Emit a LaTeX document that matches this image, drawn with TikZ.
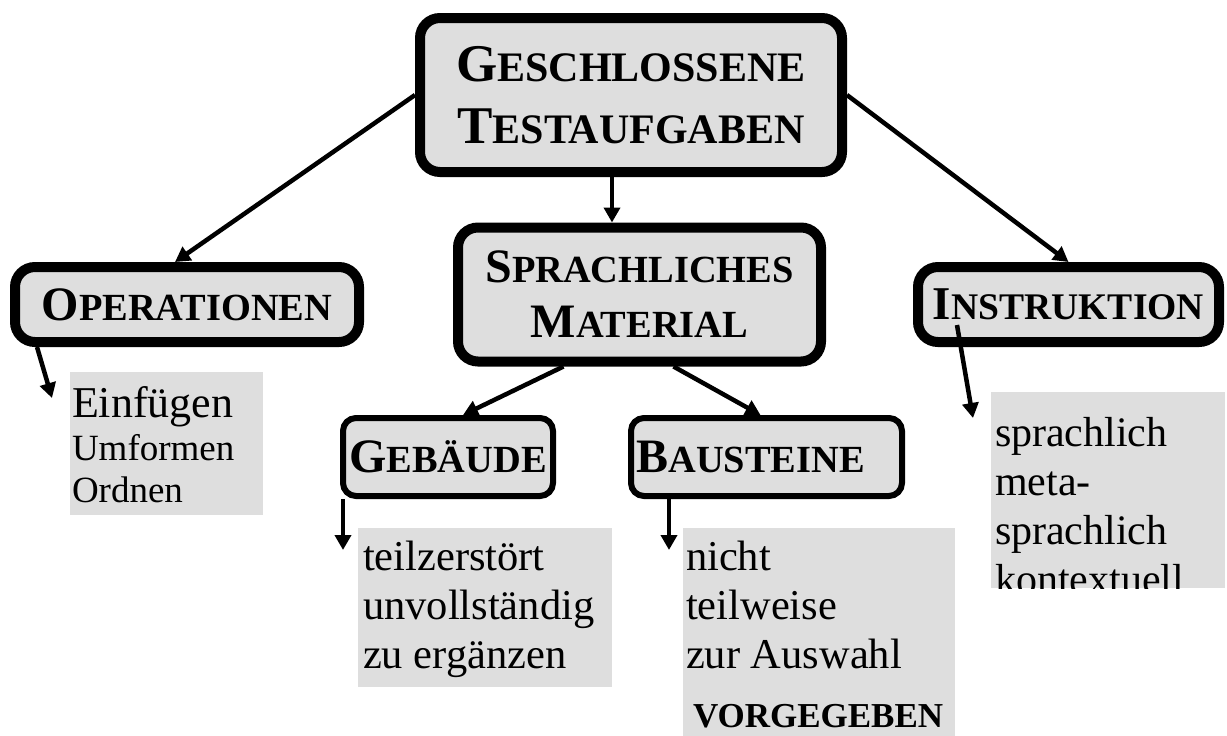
\documentclass[tikz,border=0pt]{standalone}
\usepackage{fontspec}
\setmainfont{Liberation Serif}
\usetikzlibrary{arrows.meta}
\definecolor{boxgray}{RGB}{222,222,222}
\newcommand{\capsc}[4]{{\fontsize{#1}{#1}\selectfont #3}{\fontsize{#2}{#2}\selectfont #4}}
\begin{document}
\begin{tikzpicture}[x=1pt,y=-1pt,
  hdr/.style={draw=black, fill=boxgray, rounded corners=20pt, line width=10pt, align=center, inner sep=0pt, font=\bfseries},
  sub/.style={hdr, line width=6pt, rounded corners=13pt},
  lst/.style={fill=boxgray, inner sep=0pt, outer sep=0pt},
  lsttxt/.style={anchor=north west, inner sep=0pt, outer sep=0pt, align=left, font=\fontsize{42.5}{49}\selectfont},
  arr/.style={line width=4.5pt, -{Triangle[length=15pt,width=16pt]}}]
\useasboundingbox (0,0) rectangle (1227,736);

% header boxes
\node[hdr, minimum width=422pt, minimum height=154pt, font=\bfseries\fontsize{53}{62}\selectfont] (top) at (631,95)
  {\capsc{53}{42}{G}{ESCHLOSSENE}\\\capsc{53}{42}{T}{ESTAUFGABEN}};
\node[hdr, minimum width=363pt, minimum height=134pt, font=\bfseries\fontsize{48}{55}\selectfont] (sm) at (639.5,294.5)
  {\capsc{48}{38.4}{S}{PRACHLICHES}\\\capsc{48}{38.4}{M}{ATERIAL}};
\node[hdr, minimum width=344pt, minimum height=75pt] (op) at (187,304.5) {\capsc{48}{38.4}{O}{PERATIONEN}};
\node[hdr, minimum width=301pt, minimum height=75pt] (ins) at (1068.5,304.5) {\capsc{47}{37.6}{I}{NSTRUKTION}};
\node[sub, minimum width=210pt, minimum height=78pt] (geb) at (448,457) {\capsc{48}{38.4}{G}{EBÄUDE}};
\node[sub, minimum width=271pt, minimum height=78pt] (bau) at (766.5,457) {\capsc{48}{38.4}{B}{AUSTEINE}\hspace*{32pt}};

% list boxes
\node[lst, minimum width=193pt, minimum height=143pt] (oplist) at (166.5,443.5) {};
\node[lst, minimum width=254pt, minimum height=159pt] (geblist) at (485,607.5) {};
\node[lst, minimum width=272pt, minimum height=208pt] (baulist) at (819,632) {};
\node[lst, minimum width=234pt, minimum height=196pt] (inslist) at (1108,490) {};

% list texts
\node[lsttxt, font=\fontsize{37}{42.5}\selectfont] (optxt) at (72,387)
  {{\fontsize{44}{42.5}\selectfont\rule{0pt}{30pt}Einfügen}\\Umformen\\Ordnen};
\node[lsttxt] (gebtxt) at (363,540)
  {\rule{0pt}{30pt}teilzerstört\\unvollständig\\zu ergänzen};
\node[lsttxt] (bautxt) at (686,540)
  {\rule{0pt}{30pt}nicht\\teilweise\\zur Auswahl\\[10pt]{\bfseries\fontsize{35}{42}\selectfont\hspace*{7pt}VORGEGEBEN}};
\begin{scope}
  \clip (inslist.north west) rectangle (inslist.south east);
  \node[lsttxt, font=\fontsize{42}{49}\selectfont] (instxt) at (995,416)
    {\rule{0pt}{30pt}sprachlich\\meta-\\sprachlich\\kontextuell};
\end{scope}

% connectors
\draw[arr] ([xshift=-19pt]top.south) -- ([xshift=-27.5pt]sm.north);
\draw[arr] (top.west) -- ([xshift=-12pt]op.north);
\draw[arr] (top.east) -- ([xshift=0pt]ins.north);
\draw[arr] ([xshift=-76pt]sm.south) -- ([xshift=15pt]geb.north);
\draw[arr] ([xshift=34pt]sm.south) -- ([xshift=-6pt]bau.north);
\draw[arr] ([xshift=27pt]op.south west) -- ([xshift=-18pt,yshift=-26pt]oplist.north west);
\draw[arr] ([xshift=44pt,yshift=22pt]ins.south west) -- ([xshift=-18pt,yshift=-26pt]inslist.north west);
\draw[arr] ([xshift=3pt]geb.south west) -- ([xshift=-15pt,yshift=-22pt]geblist.north west);
\draw[arr] ([xshift=41pt]bau.south west) -- ([xshift=-14pt,yshift=-22pt]baulist.north west);
\end{tikzpicture}
\end{document}
